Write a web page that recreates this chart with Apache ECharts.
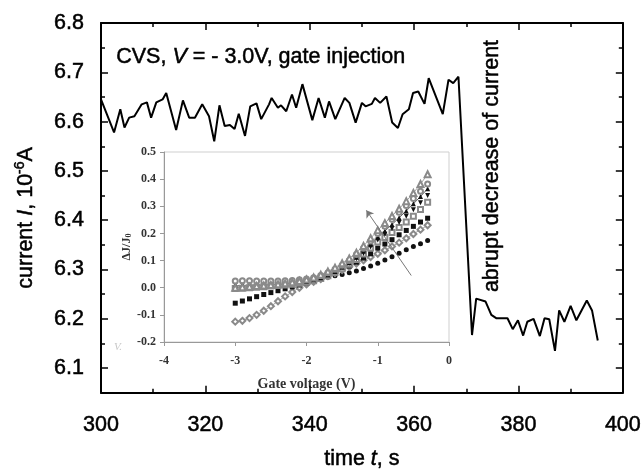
<!DOCTYPE html>
<html>
<head>
<meta charset="utf-8">
<script src="https://cdn.jsdelivr.net/npm/echarts@6/dist/echarts.min.js"></script>
<style>
html, body { margin: 0; padding: 0; background: #fff; }
#main { width: 644px; height: 475px; }
</style>
</head>
<body>
<div id="main"></div>
<script>
// main trace: time (s) and current (1e-6 A)
var timeS = [300.0, 302.5, 303.7, 304.5, 305.4, 306.4, 307.8, 308.8, 309.6, 310.6, 311.8, 312.5, 314.4, 315.7, 316.9, 318.0,
    319.4, 320.7, 321.7, 322.7, 323.7, 324.7, 325.6, 326.4, 327.6, 328.6, 329.8, 330.7, 332.2, 332.7, 333.9, 334.5,
    335.5, 336.6, 337.4, 338.6, 340.5, 341.7, 342.9, 343.7, 344.9, 346.7, 347.6, 348.8, 350.0, 350.7, 351.9, 352.5,
    353.5, 354.7, 355.8, 356.9, 357.8, 359.0, 359.8, 360.8, 362.0, 362.8, 365.5, 366.6, 367.5, 368.5, 371.1, 371.9,
    373.7, 374.8, 375.8, 377.9, 378.9, 379.9, 380.9, 381.7, 382.9, 384.1, 385.0, 385.9, 387.0, 387.8, 388.8, 390.0,
    391.1, 393.1, 394.1, 395.2];
var currentI = [6.645, 6.578, 6.625, 6.588, 6.608, 6.611, 6.635, 6.639, 6.608, 6.639, 6.645, 6.658, 6.583, 6.643, 6.608, 6.608,
    6.635, 6.611, 6.560, 6.633, 6.591, 6.593, 6.585, 6.616, 6.571, 6.631, 6.637, 6.605, 6.635, 6.648, 6.628, 6.633,
    6.621, 6.655, 6.628, 6.676, 6.603, 6.648, 6.608, 6.641, 6.605, 6.648, 6.638, 6.598, 6.638, 6.631, 6.636, 6.648,
    6.638, 6.651, 6.598, 6.587, 6.615, 6.625, 6.658, 6.661, 6.636, 6.688, 6.615, 6.685, 6.678, 6.691, 6.167, 6.241,
    6.235, 6.208, 6.201, 6.201, 6.179, 6.197, 6.166, 6.194, 6.200, 6.165, 6.201, 6.199, 6.135, 6.217, 6.194, 6.226,
    6.197, 6.237, 6.217, 6.156];
var yTicks = [6.1, 6.2, 6.3, 6.4, 6.5, 6.6, 6.7, 6.8];
var yMinorTicks = [6.05, 6.15, 6.25, 6.35, 6.45, 6.55, 6.65, 6.75];

// inset: gate voltage (V) vs dJ/J0
var gateV = [-3.0, -2.9, -2.8, -2.7, -2.6, -2.5, -2.4, -2.3, -2.2, -2.1, -2.0, -1.9, -1.8, -1.7,
    -1.6, -1.5, -1.4, -1.3, -1.2, -1.1, -1.0, -0.9, -0.8, -0.7, -0.6, -0.5, -0.4, -0.3];
var openTriangle = [0.000, 0.002, 0.004, 0.006, 0.008, 0.010, 0.013, 0.016, 0.020, 0.025,
    0.030, 0.038, 0.048, 0.060, 0.074, 0.090, 0.108, 0.129, 0.154, 0.182,
    0.212, 0.238, 0.264, 0.291, 0.319, 0.349, 0.382, 0.418];
var openCircle = [0.025, 0.026, 0.026, 0.025, 0.025, 0.025, 0.025, 0.026, 0.027, 0.029,
    0.032, 0.037, 0.045, 0.055, 0.068, 0.083, 0.100, 0.122, 0.145, 0.172,
    0.200, 0.226, 0.252, 0.278, 0.303, 0.329, 0.355, 0.382];
var filledTriangle = [0.008, 0.008, 0.009, 0.009, 0.010, 0.011, 0.012, 0.014, 0.016, 0.019,
    0.023, 0.029, 0.037, 0.047, 0.060, 0.075, 0.092, 0.112, 0.135, 0.160,
    0.186, 0.209, 0.233, 0.258, 0.283, 0.309, 0.336, 0.365];
var filledDown = [0.012, 0.012, 0.012, 0.013, 0.013, 0.014, 0.015, 0.017, 0.019, 0.022,
    0.026, 0.032, 0.040, 0.050, 0.062, 0.075, 0.090, 0.107, 0.126, 0.150,
    0.176, 0.197, 0.218, 0.240, 0.263, 0.287, 0.313, 0.340];
var openSquare = [-0.003, -0.002, 0.000, 0.002, 0.004, 0.006, 0.008, 0.010, 0.013, 0.016,
    0.020, 0.026, 0.034, 0.044, 0.056, 0.070, 0.086, 0.104, 0.124, 0.146,
    0.168, 0.185, 0.203, 0.222, 0.242, 0.263, 0.288, 0.315];
var filledSquare = [-0.057, -0.049, -0.041, -0.033, -0.025, -0.018, -0.011, -0.004, 0.003, 0.010,
    0.017, 0.025, 0.034, 0.044, 0.055, 0.067, 0.080, 0.094, 0.109, 0.125,
    0.146, 0.161, 0.177, 0.195, 0.211, 0.226, 0.242, 0.256];
var openDiamond = [-0.125, -0.122, -0.112, -0.100, -0.085, -0.068, -0.050, -0.032, -0.016, 0.000,
    0.012, 0.022, 0.032, 0.043, 0.054, 0.065, 0.077, 0.089, 0.101, 0.113,
    0.125, 0.138, 0.152, 0.166, 0.182, 0.198, 0.214, 0.230];
var filledCircle = [0.000, 0.003, 0.005, 0.008, 0.010, 0.013, 0.016, 0.019, 0.022, 0.025,
    0.028, 0.031, 0.035, 0.039, 0.044, 0.049, 0.055, 0.062, 0.071, 0.080,
    0.090, 0.102, 0.114, 0.127, 0.140, 0.152, 0.162, 0.174];
var arrowFrom = [-0.53, 0.045];
var arrowTo = [-1.16, 0.285];

function pairs(xs, ys) {
    return xs.map(function (x, i) { return [x, ys[i]]; });
}

var myChart = echarts.init(document.getElementById('main'));

var sans = 'Liberation Sans, Arial, sans-serif';
var serif = 'Liberation Serif, Times New Roman, serif';
var fs = 21.5;
var openGrey = '#8a8a8a';
var ink = '#111';
// heavier strokes like the scanned figure
var heavy = { textBorderColor: '#000', textBorderWidth: 0.5 };

function insetSeries(data, symbol, color, opts) {
    opts = opts || {};
    return {
        type: 'line',
        xAxisIndex: 2,
        yAxisIndex: 4,
        data: pairs(gateV, data),
        symbol: symbol,
        symbolSize: opts.size || 5,
        symbolRotate: opts.rotate || 0,
        showAllSymbol: true,
        itemStyle: { color: color, borderWidth: 1 },
        lineStyle: { color: opts.lineColor || color, width: opts.line ? 0.8 : 0 },
        silent: true,
        z: 3
    };
}

var mainLabel = Object.assign({ fontFamily: sans, fontSize: fs, color: '#000' }, heavy);

var option = {
    backgroundColor: '#fff',
    animation: false,
    grid: [
        { left: 101, right: 21, top: 23, bottom: 71 },
        { left: 164, top: 152, width: 285, height: 190, show: true, borderColor: '#cfcfcf', borderWidth: 1 }
    ],
    xAxis: [
        {
            type: 'value', gridIndex: 0, min: 300, max: 400, interval: 20,
            name: 'time {i|t}, s', nameLocation: 'middle', nameGap: 55,
            nameTextStyle: Object.assign({}, mainLabel, { rich: { i: Object.assign({ fontFamily: sans, fontSize: fs, fontStyle: 'italic' }, heavy) } }),
            axisLine: { lineStyle: { color: '#000', width: 2 } },
            axisTick: { inside: true, length: 7, lineStyle: { width: 1.5 } },
            minorTick: { show: true, splitNumber: 2, length: 4, lineStyle: { color: '#000', width: 1.5 } },
            axisLabel: Object.assign({ margin: 21 }, mainLabel),
            splitLine: { show: false }
        },
        {
            type: 'value', gridIndex: 0, position: 'top', min: 300, max: 400, interval: 20,
            axisLine: { lineStyle: { color: '#000', width: 2 } },
            axisTick: { inside: true, length: 7, lineStyle: { width: 1.5 } },
            minorTick: { show: true, splitNumber: 2, length: 4, lineStyle: { color: '#000', width: 1.5 } },
            axisLabel: { show: false },
            splitLine: { show: false }
        },
        {
            type: 'value', gridIndex: 1, min: -4, max: 0, interval: 1,
            name: 'Gate voltage (V)', nameLocation: 'middle', nameGap: 35,
            nameTextStyle: { fontFamily: serif, fontWeight: 'bold', fontSize: 14, color: '#333' },
            axisLine: { onZero: false, lineStyle: { color: '#999', width: 1 } },
            axisTick: { length: 4, lineStyle: { color: '#999' } },
            axisLabel: { fontFamily: serif, fontWeight: 'bold', fontSize: 12, color: '#333', margin: 13 },
            splitLine: { show: false }
        }
    ],
    yAxis: [
        {
            type: 'value', gridIndex: 0, min: 6.05, max: 6.8,
            name: 'current {i|I}, 10{s|-6}A', nameLocation: 'middle', nameGap: 62, nameRotate: 90,
            nameTextStyle: Object.assign({}, mainLabel, {
                lineHeight: 26,
                padding: [0, 20, 0, 0],
                rich: {
                    i: Object.assign({ fontFamily: sans, fontSize: fs, fontStyle: 'italic', lineHeight: 26 }, heavy),
                    s: Object.assign({ fontFamily: sans, fontSize: 14, verticalAlign: 'top', lineHeight: 12 }, heavy)
                }
            }),
            axisLine: { lineStyle: { color: '#000', width: 2 } },
            axisTick: { inside: true, length: 7, customValues: yTicks, lineStyle: { width: 1.5 } },
            axisLabel: Object.assign({
                margin: 17, customValues: yTicks,
                formatter: function (v) { return v.toFixed(1); }
            }, mainLabel),
            splitLine: { show: false }
        },
        {
            type: 'value', gridIndex: 0, position: 'right', min: 6.05, max: 6.8,
            axisLine: { lineStyle: { color: '#000', width: 2 } },
            axisTick: { inside: true, length: 7, customValues: yTicks, lineStyle: { width: 1.5 } },
            axisLabel: { show: false },
            splitLine: { show: false }
        },
        {
            type: 'value', gridIndex: 0, position: 'left', min: 6.05, max: 6.8,
            axisLine: { show: false },
            axisTick: { inside: true, length: 4, customValues: yMinorTicks, lineStyle: { color: '#000', width: 1.5 } },
            axisLabel: { show: false },
            splitLine: { show: false }
        },
        {
            type: 'value', gridIndex: 0, position: 'right', min: 6.05, max: 6.8,
            axisLine: { show: false },
            axisTick: { inside: true, length: 4, customValues: yMinorTicks, lineStyle: { color: '#000', width: 1.5 } },
            axisLabel: { show: false },
            splitLine: { show: false }
        },
        {
            type: 'value', gridIndex: 1, min: -0.2, max: 0.5, interval: 0.1,
            name: 'ΔJ/J{sub|0}', nameLocation: 'middle', nameGap: 31, nameRotate: 90,
            nameTextStyle: {
                fontFamily: serif, fontWeight: 'bold', fontSize: 12, color: '#333',
                rich: { sub: { fontFamily: serif, fontWeight: 'bold', fontSize: 8, verticalAlign: 'bottom' } }
            },
            axisLine: { onZero: false, lineStyle: { color: '#999', width: 1 } },
            axisTick: { length: 4, lineStyle: { color: '#999' } },
            axisLabel: {
                fontFamily: serif, fontWeight: 'bold', fontSize: 12, color: '#333', margin: 8,
                formatter: function (v) { return v.toFixed(1); }
            },
            splitLine: { show: false }
        }
    ],
    series: [
        {
            type: 'line',
            xAxisIndex: 0,
            yAxisIndex: 0,
            data: pairs(timeS, currentI),
            symbol: 'none',
            lineStyle: { color: '#000', width: 2 },
            silent: true,
            z: 4
        },
        insetSeries(filledCircle, 'circle', ink, { size: 5 }),
        insetSeries(openDiamond, 'emptyDiamond', openGrey, { size: 6, line: true }),
        insetSeries(filledSquare, 'rect', ink, { size: 5 }),
        insetSeries(openSquare, 'emptyRect', openGrey, { size: 5 }),
        insetSeries(filledDown, 'triangle', ink, { size: 5, rotate: 180 }),
        insetSeries(filledTriangle, 'triangle', ink, { size: 5, line: true, lineColor: '#333' }),
        insetSeries(openCircle, 'emptyCircle', openGrey, { size: 5 }),
        (function () {
            var s = insetSeries(openTriangle, 'emptyTriangle', openGrey, { size: 6, line: true });
            s.markLine = {
                silent: true,
                symbol: ['none', 'arrow'],
                symbolSize: 7,
                label: { show: false },
                lineStyle: { color: '#777', width: 1, type: 'solid' },
                data: [[{ coord: arrowFrom }, { coord: arrowTo }]]
            };
            return s;
        })()
    ],
    graphic: [
        {
            type: 'text', left: 116, top: 46, silent: true,
            style: {
                text: 'CVS, {i|V} = - 3.0V, gate injection',
                fontFamily: sans, fontSize: fs, fill: '#000', stroke: '#000', lineWidth: 0.5,
                rich: { i: { fontFamily: sans, fontSize: fs, fontStyle: 'italic', fill: '#000', stroke: '#000', lineWidth: 0.5 } }
            }
        },
        {
            type: 'text', x: 492, y: 166, rotation: Math.PI / 2, silent: true,
            style: {
                text: 'abrupt decrease of current',
                fontFamily: sans, fontSize: fs, fill: '#000', stroke: '#000', lineWidth: 0.5,
                align: 'center', verticalAlign: 'middle'
            }
        },
        {
            type: 'text', x: 114, y: 347, silent: true,
            style: {
                text: 'V.', fontFamily: serif, fontStyle: 'italic', fontSize: 11, fill: '#c8c8c8',
                verticalAlign: 'middle'
            }
        }
    ]
};

myChart.setOption(option);
</script>
</body>
</html>
